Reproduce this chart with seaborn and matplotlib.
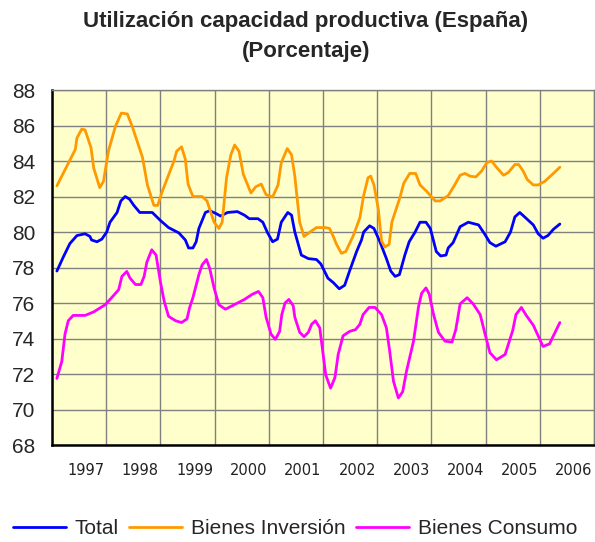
import matplotlib
matplotlib.use("Agg")
import matplotlib.pyplot as plt
import seaborn as sns
import pandas as pd

# ---------------- data (decimal year, percentage) ----------------
total_x = [1997.09, 1997.21, 1997.33, 1997.46, 1997.61, 1997.70, 1997.73, 1997.83, 1997.92,
           1998.01, 1998.07, 1998.20, 1998.27, 1998.35, 1998.43, 1998.51, 1998.62, 1998.85,
           1999.00, 1999.15, 1999.34, 1999.46, 1999.52, 1999.60, 1999.66, 1999.71, 1999.83, 1999.91,
           2000.02, 2000.11, 2000.24, 2000.42, 2000.55, 2000.64, 2000.80, 2000.89, 2000.97,
           2001.07, 2001.16, 2001.23, 2001.35, 2001.42, 2001.48, 2001.60, 2001.73, 2001.88, 2001.96,
           2002.01, 2002.09, 2002.19, 2002.30, 2002.40, 2002.49, 2002.62, 2002.71, 2002.75, 2002.86, 2002.94,
           2003.05, 2003.17, 2003.25, 2003.33, 2003.41, 2003.51, 2003.59, 2003.70, 2003.79, 2003.90, 2003.98,
           2004.09, 2004.17, 2004.27, 2004.31, 2004.40, 2004.53, 2004.68, 2004.87, 2004.99,
           2005.08, 2005.19, 2005.36, 2005.46, 2005.54, 2005.63, 2005.72, 2005.88, 2005.97,
           2006.06, 2006.15, 2006.25, 2006.37]
total_y = [77.8, 78.6, 79.35, 79.8, 79.9, 79.75, 79.55, 79.45, 79.6,
           80.0, 80.55, 81.1, 81.75, 82.0, 81.85, 81.5, 81.1, 81.1,
           80.65, 80.25, 79.95, 79.55, 79.1, 79.1, 79.45, 80.2, 81.1, 81.2,
           81.05, 80.9, 81.1, 81.15, 80.95, 80.75, 80.75, 80.55, 80.0,
           79.45, 79.6, 80.55, 81.1, 80.95, 80.0, 78.7, 78.5, 78.45, 78.2,
           77.9, 77.4, 77.15, 76.8, 77.0, 77.8, 78.9, 79.55, 80.0, 80.35, 80.2,
           79.45, 78.5, 77.8, 77.5, 77.6, 78.7, 79.45, 80.0, 80.55, 80.55, 80.2,
           78.9, 78.65, 78.7, 79.1, 79.4, 80.3, 80.55, 80.4, 79.85,
           79.4, 79.2, 79.45, 80.0, 80.85, 81.1, 80.85, 80.4, 79.9,
           79.65, 79.8, 80.15, 80.45]

inversion_x = [1997.09, 1997.43, 1997.46, 1997.55, 1997.61, 1997.72, 1997.77, 1997.88, 1997.95,
               1998.04, 1998.17, 1998.28, 1998.39, 1998.48, 1998.67, 1998.76, 1998.88, 1998.95,
               1999.03, 1999.25, 1999.30, 1999.39, 1999.46, 1999.51, 1999.60, 1999.77, 1999.86, 1999.99,
               2000.08, 2000.14, 2000.22, 2000.30, 2000.37, 2000.45, 2000.53, 2000.67, 2000.76, 2000.86, 2000.95,
               2001.07, 2001.17, 2001.23, 2001.34, 2001.42, 2001.48, 2001.57, 2001.65, 2001.76, 2001.88,
               2002.04, 2002.12, 2002.19, 2002.25, 2002.34, 2002.42, 2002.56, 2002.68, 2002.75, 2002.83, 2002.88, 2002.94,
               2003.02, 2003.08, 2003.14, 2003.22, 2003.27, 2003.42, 2003.49, 2003.60, 2003.71, 2003.79, 2003.91,
               2004.07, 2004.16, 2004.31, 2004.42, 2004.53, 2004.62, 2004.71, 2004.82, 2004.93,
               2005.02, 2005.11, 2005.20, 2005.33, 2005.42, 2005.54, 2005.61, 2005.69, 2005.77, 2005.88, 2005.97,
               2006.09, 2006.25, 2006.37]
inversion_y = [82.6, 84.65, 85.3, 85.8, 85.75, 84.75, 83.6, 82.5, 82.85,
               84.55, 85.95, 86.7, 86.65, 85.95, 84.2, 82.65, 81.5, 81.5,
               82.25, 84.0, 84.55, 84.8, 84.1, 82.7, 82.0, 82.0, 81.75, 80.55,
               80.2, 80.55, 83.05, 84.35, 84.9, 84.55, 83.25, 82.2, 82.55, 82.7, 82.1,
               81.97, 82.65, 83.9, 84.7, 84.35, 83.15, 80.55, 79.75, 80.0, 80.25,
               80.25, 80.2, 79.75, 79.3, 78.8, 78.9, 79.8, 80.8, 82.05, 83.05, 83.15, 82.65,
               81.3, 79.5, 79.15, 79.3, 80.55, 81.95, 82.75, 83.3, 83.3, 82.65, 82.3,
               81.75, 81.75, 82.05, 82.6, 83.2, 83.3, 83.15, 83.1, 83.45,
               83.9, 84.0, 83.65, 83.2, 83.35, 83.8, 83.8, 83.45, 82.95, 82.65, 82.65,
               82.85, 83.3, 83.65]

consumo_x = [1997.09, 1997.18, 1997.24, 1997.30, 1997.39, 1997.61, 1997.77, 1997.98,
             1998.10, 1998.23, 1998.29, 1998.38, 1998.44, 1998.54, 1998.64, 1998.70, 1998.75, 1998.84, 1998.92,
             1999.00, 1999.07, 1999.15, 1999.28, 1999.39, 1999.49, 1999.54, 1999.60, 1999.71, 1999.77, 1999.85, 1999.91, 1999.99,
             2000.08, 2000.20, 2000.36, 2000.55, 2000.70, 2000.81, 2000.89, 2000.95,
             2001.04, 2001.12, 2001.20, 2001.24, 2001.30, 2001.37, 2001.45, 2001.48, 2001.57, 2001.65, 2001.73, 2001.79, 2001.86, 2001.94, 2001.99,
             2002.05, 2002.14, 2002.22, 2002.28, 2002.37, 2002.49, 2002.60, 2002.68, 2002.74, 2002.85, 2002.96,
             2003.08, 2003.17, 2003.23, 2003.30, 2003.39, 2003.47, 2003.54, 2003.67, 2003.76, 2003.82, 2003.90, 2003.96,
             2004.04, 2004.13, 2004.25, 2004.38, 2004.45, 2004.53, 2004.66, 2004.77, 2004.90, 2004.99,
             2005.08, 2005.20, 2005.36, 2005.50, 2005.56, 2005.66, 2005.75, 2005.88, 2005.97,
             2006.06, 2006.18, 2006.25, 2006.37]
consumo_y = [71.75, 72.7, 74.25, 75.0, 75.3, 75.3, 75.5, 75.9,
             76.3, 76.75, 77.5, 77.78, 77.4, 77.04, 77.04, 77.5, 78.3, 79.0, 78.7,
             77.2, 76.1, 75.25, 75.0, 74.9, 75.1, 75.75, 76.3, 77.6, 78.15, 78.45, 77.95, 76.85,
             75.9, 75.65, 75.9, 76.2, 76.5, 76.65, 76.3, 75.2,
             74.25, 73.95, 74.4, 75.35, 76.0, 76.2, 75.85, 75.2, 74.35, 74.1, 74.35, 74.8, 75.0, 74.6, 73.4,
             71.95, 71.2, 71.8, 73.1, 74.15, 74.4, 74.5, 74.8, 75.35, 75.75, 75.75,
             75.35, 74.6, 73.3, 71.6, 70.65, 71.0, 72.15, 73.85, 75.75, 76.55, 76.85, 76.5,
             75.35, 74.35, 73.85, 73.8, 74.5, 75.95, 76.3, 75.95, 75.35, 74.25,
             73.2, 72.8, 73.1, 74.45, 75.35, 75.75, 75.3, 74.75, 74.15,
             73.55, 73.7, 74.15, 74.9]

series_names = ["Total", "Bienes Inversión", "Bienes Consumo"]
series_colors = ["#0000FF", "#FF9900", "#FF00FF"]
year_labels = ["1997", "1998", "1999", "2000", "2001", "2002", "2003", "2004", "2005", "2006"]
y_ticks = [68, 70, 72, 74, 76, 78, 80, 82, 84, 86, 88]
title_lines = ["Utilización capacidad productiva (España)", "(Porcentaje)"]

df = pd.concat([
    pd.DataFrame({"year": total_x, "value": total_y, "serie": series_names[0]}),
    pd.DataFrame({"year": inversion_x, "value": inversion_y, "serie": series_names[1]}),
    pd.DataFrame({"year": consumo_x, "value": consumo_y, "serie": series_names[2]}),
], ignore_index=True)

# ---------------- styling ----------------
sns.set_style("white")
plt.rcParams["font.family"] = ["Liberation Sans", "DejaVu Sans"]

W, H = 595, 542
fig = plt.figure(figsize=(W / 100, H / 100), dpi=100)
ax = fig.add_axes([52 / W, (H - 445) / H, 542 / W, 355 / H])
ax.set_facecolor("#FFFFCC")

sns.lineplot(data=df, x="year", y="value", hue="serie", hue_order=series_names,
             palette=dict(zip(series_names, series_colors)), linewidth=2.0,
             estimator=None, sort=False, ax=ax, zorder=3)

ax.set_xlim(1997, 2007)
ax.set_ylim(68, 88)

# grid
ax.set_xticks(list(range(1997, 2008)))
ax.set_xticklabels([])
ax.tick_params(axis="x", which="major", length=0)
ax.set_xticks([int(y) + 0.63 for y in year_labels], year_labels, minor=True)
ax.tick_params(axis="x", which="minor", length=0, pad=13, labelsize=10.5)
for lab in ax.get_xticklabels(minor=True):
    lab.set_fontfamily("DejaVu Sans")
    lab.set_color("#222222")

ax.set_yticks(y_ticks)
ax.set_yticklabels([str(v) for v in y_ticks])
ax.tick_params(axis="y", length=5, width=1.2, pad=7, labelsize=15, color="black")

ax.grid(True, which="major", color="#808080", linewidth=1.0)
ax.set_axisbelow(True)

for side in ["top", "right"]:
    ax.spines[side].set_color("#808080")
    ax.spines[side].set_linewidth(1.0)
for side in ["left", "bottom"]:
    ax.spines[side].set_color("black")
    ax.spines[side].set_linewidth(1.8)

ax.set_xlabel("")
ax.set_ylabel("")

# legend
handles, labels = ax.get_legend_handles_labels()
ax.get_legend().remove()
fig.legend(handles, labels, loc="center", bbox_to_anchor=(295 / W, 1 - 529 / H),
           ncol=3, frameon=False, fontsize=15, handlelength=2.55, handletextpad=0.43,
           columnspacing=0.48, borderaxespad=0)

# title
fig.text(306 / W, 1 - 22 / H, title_lines[0], ha="center", va="center",
         fontsize=16, fontweight="bold")
fig.text(306 / W, 1 - 52 / H, title_lines[1], ha="center", va="center",
         fontsize=16, fontweight="bold")

fig.savefig("out.png", dpi=100)
